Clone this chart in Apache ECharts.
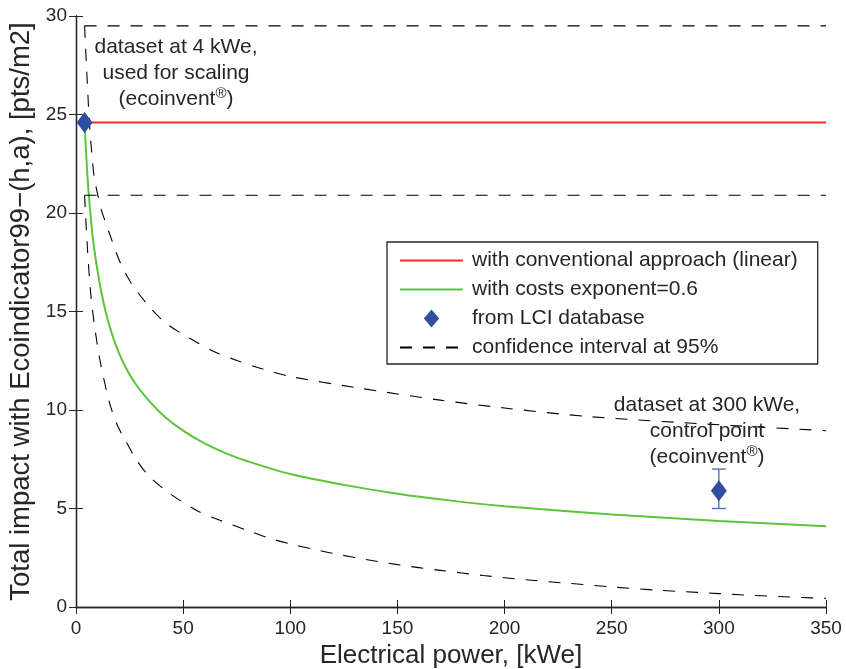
<!DOCTYPE html>
<html>
<head>
<meta charset="utf-8">
<script src="https://cdn.jsdelivr.net/npm/echarts@6/dist/echarts.min.js"></script>
<style>
html, body { margin: 0; padding: 0; background: #fff; }
#main { width: 846px; height: 669px; }
</style>
</head>
<body>
<div id="main"></div>
<script>
// x values (kWe) and y values (pts/m2)
var linearPower = [4, 350];
var linearImpact = [24.6, 24.6];
var linearUpper = [29.5, 29.5];
var linearLower = [20.9, 20.9];

var expPower = [4, 5, 6, 8, 10, 12, 15, 20, 25, 30, 40, 50, 60, 70, 80, 100, 125, 150, 175, 200, 250, 300, 350];
var expImpact = [24.6, 22.5, 20.9, 18.6, 17.1, 15.9, 14.5, 12.9, 11.8, 11.0, 9.8, 8.95, 8.3, 7.8, 7.4, 6.75, 6.2, 5.75, 5.4, 5.12, 4.7, 4.37, 4.1];

var upPower = [4, 5, 6.2, 7.3, 8.5, 10, 11.7, 15.5, 20.2, 25.7, 33.4, 42, 52.9, 63.8, 75.4, 87.1, 100, 130, 170, 200, 240, 300, 350];
var upImpact = [29.5, 27.2, 24.7, 23.1, 21.8, 21.0, 20.2, 19.0, 17.6, 16.45, 15.35, 14.4, 13.65, 13.0, 12.5, 12.08, 11.7, 11.15, 10.5, 10.1, 9.66, 9.25, 8.95];

var lowPower = [4, 5.4, 7, 9, 11.4, 15.7, 19.4, 22.1, 28.3, 34.5, 43.9, 56.3, 67.2, 79.7, 90, 100, 110, 120, 135, 150, 170, 190, 210, 230, 250, 270, 290, 310, 330, 350];
var lowImpact = [20.9, 18.1, 15.75, 14.0, 12.4, 10.35, 9.2, 8.65, 7.45, 6.6, 5.75, 4.9, 4.4, 3.9, 3.5, 3.2, 2.95, 2.72, 2.42, 2.15, 1.86, 1.6, 1.38, 1.2, 1.02, 0.86, 0.74, 0.62, 0.52, 0.44];

var lciPower = [4, 300];
var lciImpact = [24.6, 5.9];
var errPower = [300];
var errLow = [5.0];
var errHigh = [7.0];

var font = '"Liberation Sans", Arial, Helvetica, sans-serif';
var ink = '#262626';
var dash = [12, 11];

function pairs(xs, ys) {
	return xs.map(function(x, i) { return [x, ys[i]]; });
}

var myChart = echarts.init(document.getElementById('main'));

var axisCommon = {
	axisLine: { show: true, lineStyle: { color: ink, width: 1.3 } },
	axisTick: { show: true, inside: true, length: 7, lineStyle: { color: ink } },
	splitLine: { show: false }
};

var hideDot = { opacity: 0 };

var option = {
	animation: false,
	backgroundColor: '#fff',
	textStyle: { fontFamily: font },
	grid: { left: 76, right: 20, top: 16, bottom: 62, containLabel: false, outerBoundsMode: 'none' },
	legend: {
		orient: 'vertical',
		left: 387,
		top: 242,
		padding: [8, 20, 6, 12],
		itemWidth: 63,
		itemHeight: 18,
		itemGap: 8,
		symbolKeepAspect: true,
		borderColor: ink,
		borderWidth: 1.3,
		borderRadius: 0,
		backgroundColor: '#fff',
		textStyle: { fontFamily: font, fontSize: 21, color: ink, padding: [0, 0, 0, 4] },
		data: [
			{ name: 'with conventional approach (linear)', itemStyle: hideDot },
			{ name: 'with costs exponent=0.6', itemStyle: hideDot },
			{ name: 'from LCI database', icon: 'path://M0,0L8.5,10L0,20L-8.5,10Z' },
			{ name: 'confidence interval at 95%', itemStyle: hideDot }
		]
	}
};

option.xAxis = [
	Object.assign({
		type: 'value', min: 0, max: 350, interval: 50, position: 'bottom',
		name: 'Electrical power, [kWe]', nameLocation: 'middle', nameGap: 35,
		nameTextStyle: { fontFamily: font, fontSize: 26, color: ink },
		axisLabel: { fontFamily: font, fontSize: 19, color: ink, margin: 12 }
	}, axisCommon),
	Object.assign({
		type: 'value', min: 0, max: 350, interval: 50, position: 'top',
		axisLabel: { show: false }
	}, axisCommon)
];
option.yAxis = [
	Object.assign({
		type: 'value', min: 0, max: 30, interval: 5, position: 'left',
		name: 'Total impact with Ecoindicator99\u2212(h,a), [pts/m2]', nameLocation: 'middle', nameGap: 41,
		nameTextStyle: { fontFamily: font, fontSize: 27.5, color: ink },
		axisLabel: { fontFamily: font, fontSize: 19, color: ink, margin: 9 }
	}, axisCommon),
	Object.assign({
		type: 'value', min: 0, max: 30, interval: 5, position: 'right',
		axisLabel: { show: false }
	}, axisCommon)
];

function dashed(xs, ys, smooth) {
	return {
		name: 'confidence interval at 95%',
		type: 'line',
		symbol: 'none',
		smooth: smooth,
		data: pairs(xs, ys),
		itemStyle: { color: '#000' },
		lineStyle: { color: '#000', width: 1.1, type: dash }
	};
}

option.series = [
	{
		name: 'with conventional approach (linear)',
		type: 'line',
		symbol: 'none',
		data: pairs(linearPower, linearImpact),
		itemStyle: { color: '#ff2a2a' },
		lineStyle: { color: '#ff2a2a', width: 2 }
	},
	{
		name: 'with costs exponent=0.6',
		type: 'line',
		symbol: 'none',
		smooth: 0.3,
		data: pairs(expPower, expImpact),
		itemStyle: { color: '#5cc43a' },
		lineStyle: { color: '#5cc43a', width: 2 }
	},
	dashed(linearPower, linearUpper, false),
	dashed(linearPower, linearLower, false),
	dashed(upPower, upImpact, 0.3),
	dashed(lowPower, lowImpact, 0.3),
	{
		name: 'error',
		type: 'custom',
		data: errPower.map(function(x, i) { return [x, errLow[i], errHigh[i]]; }),
		renderItem: function(params, api) {
			var lo = api.coord([api.value(0), api.value(1)]);
			var hi = api.coord([api.value(0), api.value(2)]);
			var w = 7;
			var st = { stroke: '#4a68b8', lineWidth: 1.3 };
			return {
				type: 'group',
				children: [
					{ type: 'line', shape: { x1: lo[0], y1: lo[1], x2: hi[0], y2: hi[1] }, style: st },
					{ type: 'line', shape: { x1: lo[0] - w, y1: lo[1], x2: lo[0] + w, y2: lo[1] }, style: st },
					{ type: 'line', shape: { x1: hi[0] - w, y1: hi[1], x2: hi[0] + w, y2: hi[1] }, style: st }
				]
			};
		},
		z: 3
	},
	{
		name: 'from LCI database',
		type: 'scatter',
		symbol: 'diamond',
		symbolSize: [16, 21],
		data: pairs(lciPower, lciImpact),
		itemStyle: { color: '#2f4f9f', opacity: 1 },
		z: 5
	}
];

var rich = {
	n: { fontFamily: font, fontSize: 21, lineHeight: 26, align: 'center', fill: ink, color: ink },
	sup: { fontFamily: font, fontSize: 15, lineHeight: 26, verticalAlign: 'top', align: 'center', fill: ink, color: ink }
};

option.graphic = [
	{
		type: 'text', x: 176, y: 34, z: 10,
		style: {
			text: '{n|dataset at 4 kWe,}\n{n|used for scaling}\n{n|(ecoinvent}{sup|\u00ae}{n|)}',
			rich: rich, font: '21px ' + font, fill: ink, align: 'center', verticalAlign: 'top'
		}
	},
	{
		type: 'text', x: 707, y: 392, z: 10,
		style: {
			text: '{n|dataset at 300 kWe,}\n{n|control point}\n{n|(ecoinvent}{sup|\u00ae}{n|)}',
			rich: rich, font: '21px ' + font, fill: ink, align: 'center', verticalAlign: 'top'
		}
	}
];

myChart.setOption(option);
</script>
</body>
</html>
